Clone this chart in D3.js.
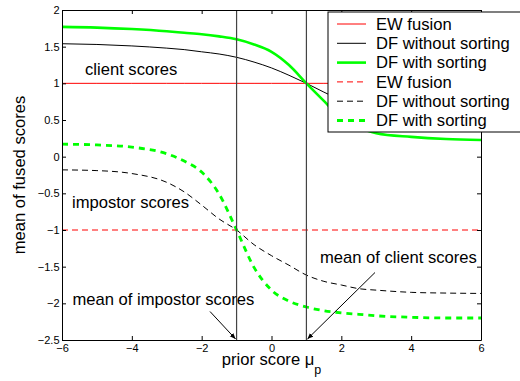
<!DOCTYPE html>
<html><head><meta charset="utf-8">
<script src="https://cdn.jsdelivr.net/npm/d3@7"></script>
<style>body{margin:0;background:#fff}svg{display:block}text{font-family:"Liberation Sans",Arial,sans-serif}</style>
</head><body><svg id="c" width="520" height="381"></svg>
<script>
const xs = [-6,-5,-4,-3,-2.5,-2,-1.5,-1,-0.5,0,0.5,1,1.5,2,2.5,3,4,5,6];
const clientEW      = [1,1,1,1,1,1,1,1,1,1,1,1,1,1,1,1,1,1,1];
const clientNoSort  = [1.54,1.53,1.51,1.48,1.46,1.43,1.40,1.355,1.29,1.21,1.11,1.0,0.88,0.77,0.68,0.60,0.52,0.48,0.46];
const clientSort    = [1.77,1.76,1.74,1.71,1.69,1.67,1.64,1.60,1.53,1.43,1.25,1.0,0.76,0.52,0.40,0.32,0.27,0.24,0.227];
const impEW         = [-1,-1,-1,-1,-1,-1,-1,-1,-1,-1,-1,-1,-1,-1,-1,-1,-1,-1,-1];
const impNoSort     = [-0.18,-0.19,-0.23,-0.35,-0.48,-0.66,-0.85,-1.0,-1.2,-1.35,-1.48,-1.615,-1.70,-1.75,-1.80,-1.82,-1.85,-1.86,-1.865];
const impSort       = [0.17,0.16,0.13,0.04,-0.06,-0.21,-0.51,-1.0,-1.51,-1.82,-1.97,-2.05,-2.10,-2.13,-2.15,-2.17,-2.19,-2.20,-2.2];
const meanLines = [-1, 1];
const xTicks = [-6,-4,-2,0,2,4,6];
const yTicks = [2,1.5,1,0.5,0,-0.5,-1,-1.5,-2,-2.5];
const legendLabels = ["EW fusion","DF without sorting","DF with sorting","EW fusion","DF without sorting","DF with sorting"];

const svg = d3.select("#c");
const L=62,R=481,T=10,B=340;
const x = d3.scaleLinear().domain([-6,6]).range([L,R]);
const y = d3.scaleLinear().domain([-2.5,2]).range([B,T]);
const fmt = d => (d<0?"\u2212":"") + Math.abs(d);

const series = [
 {v:clientEW, c:"#ff0000", w:1, dash:null},
 {v:clientNoSort, c:"#000", w:1, dash:null},
 {v:clientSort, c:"#00ff00", w:2.6, dash:null},
 {v:impEW, c:"#ff0000", w:1, dash:"6,4"},
 {v:impNoSort, c:"#000", w:1, dash:"6,4"},
 {v:impSort, c:"#00ff00", w:2.8, dash:"6,5"}
];
const line = d3.line().x(d=>x(d[0])).y(d=>y(d[1])).curve(d3.curveMonotoneX);
series.forEach(s=>{
  svg.append("path").attr("d", line(xs.map((xx,i)=>[xx,s.v[i]])))
    .attr("fill","none").attr("stroke",s.c).attr("stroke-width",s.w)
    .attr("stroke-dasharray",s.dash);
});
meanLines.forEach(m=>{
  svg.append("line").attr("x1",x(m)).attr("x2",x(m)).attr("y1",T).attr("y2",B)
    .attr("stroke","#444").attr("stroke-width",1.2);
});

// axes
const gx = svg.append("g").attr("transform",`translate(0,${B})`)
  .call(d3.axisBottom(x).tickValues(xTicks).tickFormat(fmt).tickSize(-4).tickSizeOuter(0).tickPadding(4.5));
const gy = svg.append("g").attr("transform",`translate(${L},0)`)
  .call(d3.axisLeft(y).tickValues(yTicks).tickFormat(fmt).tickSize(-4).tickSizeOuter(0).tickPadding(2.5));
const gt = svg.append("g").attr("transform",`translate(0,${T})`)
  .call(d3.axisTop(x).tickValues(xTicks).tickFormat("").tickSize(-4).tickSizeOuter(0));
const gr = svg.append("g").attr("transform",`translate(${R},0)`)
  .call(d3.axisRight(y).tickValues(yTicks).tickFormat("").tickSize(-4).tickSizeOuter(0));
[gx,gy,gt,gr].forEach(g=>{
  g.selectAll("path.domain").attr("stroke","#000").attr("stroke-width",1);
  g.selectAll(".tick line").attr("stroke","#000");
  g.selectAll("text").attr("font-size","11px").attr("fill","#000").attr("font-family","Liberation Sans, Arial, sans-serif");
});

// arrows
const defs = svg.append("defs");
defs.append("marker").attr("id","ah").attr("viewBox","0 0 10 10").attr("refX",10).attr("refY",5)
  .attr("markerWidth",6).attr("markerHeight",6).attr("orient","auto")
  .append("path").attr("d","M0,1L10,5L0,9z").attr("fill","#000");
svg.append("line").attr("x1",210).attr("y1",311.5).attr("x2",x(-1)-1).attr("y2",B-1)
  .attr("stroke","#000").attr("stroke-width",1).attr("marker-end","url(#ah)");
svg.append("line").attr("x1",375).attr("y1",272.5).attr("x2",x(1)+1).attr("y2",B-1)
  .attr("stroke","#000").attr("stroke-width",1).attr("marker-end","url(#ah)");

// annotations
const fs = "16.6px";
const ann = [["client scores",85,75],["impostor scores",72,208],["mean of impostor scores",72.5,305],["mean of client scores",320,262.5]];
ann.forEach(a=>svg.append("text").text(a[0]).attr("x",a[1]).attr("y",a[2]).attr("font-size",fs).attr("fill","#000"));

// axis labels
const xl = svg.append("text").attr("x",271.5).attr("y",364.5).attr("text-anchor","middle").attr("font-size",fs);
xl.append("tspan").text("prior score \u03bc");
xl.append("tspan").text("p").attr("font-size","12.5px").attr("dy",9.5);
svg.append("text").text("mean of fused scores").attr("transform","translate(24.5,175) rotate(-90)")
  .attr("text-anchor","middle").attr("font-size",fs);

// legend
const lg = svg.append("g");
lg.append("rect").attr("x",328).attr("y",12).attr("width",196).attr("height",120)
  .attr("fill","#fff").attr("stroke","#000").attr("stroke-width",1);
legendLabels.forEach((t,i)=>{
  const yy = 24 + i*19.3, s = series[i];
  lg.append("line").attr("x1",337).attr("x2",366).attr("y1",yy).attr("y2",yy)
    .attr("stroke",s.c).attr("stroke-width",s.w).attr("stroke-dasharray",s.dash);
  lg.append("text").text(t).attr("x",376).attr("y",yy).attr("dy","0.35em").attr("font-size",fs);
});
</script></body></html>
